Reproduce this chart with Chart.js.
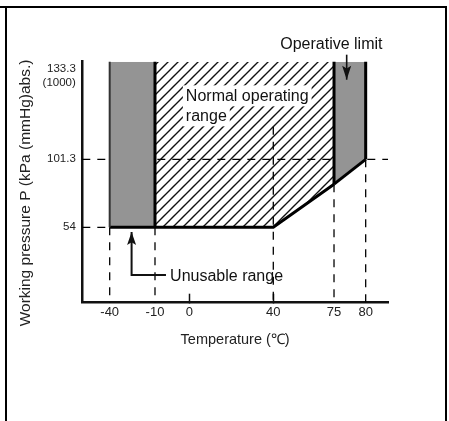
<!DOCTYPE html>
<html>
<head>
<meta charset="utf-8">
<script src="https://cdn.jsdelivr.net/npm/chart.js@4.4.1/dist/chart.umd.min.js"></script>
<style>
  html, body { margin: 0; padding: 0; background: #fff; }
  #wrap { position: relative; width: 449px; height: 421px; overflow: hidden; }
  #wrap canvas { position: absolute; left: 0; top: 0; }
  #frame { position: absolute; left: 5px; top: 6px; width: 438px; height: 440px; border: 2px solid #000; border-bottom: none; }
  #frameTop { position: absolute; left: 0; top: 6px; width: 6px; height: 2px; background: #000; }
</style>
</head>
<body>
<div id="wrap">
  <canvas id="myChart" width="449" height="421"></canvas>
  <div id="frame"></div>
  <div id="frameTop"></div>
</div>
<script>
// axis ticks
const temperatures = [-40, -10, 0, 40, 75, 80];
const temperatureLabels = ['-40', '-10', '0', '40', '75', '80'];
const pressures = [54, 101.3, 133.3];
const pressureLabels = [['54'], ['101.3'], ['', '', '133.3', '(1000)']];

// axis ends
const tempMin = -50, tempMax = 90;
const pressMin = 0, pressTop = 133.3;

// regions (lower boundary, filled up to the top)
const unusableT = [-40, -10];
const unusableP = [54, 54];
const normalT = [-10, 40, 75];
const normalP = [54, 54, 84];
const limitT = [75, 80];
const limitP = [84, 101.3];

// vertical region edges, from boundary up to the top
const edgeT = [-40, -10, 75, 80];
const edgeP = [54, 54, 84, 101.3];

// dashed guides
const guideLevels = [101.3, 54];
const guideLevelEnds = [tempMax, -40];
const guideTemps = [-40, -10, 40, 75, 80];
const guideTempTops = [54, 54, 112, 84, 101.3];

// annotations (data units)
const normalText = ['Normal operating', 'range'];
const normalTextT = -1, normalTextP = 120.3;
const unusableText = 'Unusable range';
const unusableTextT = -5.6, unusableTextP = 15.3;
const unusableArrowT = [-6.8, -25.5, -25.5];
const unusableArrowP = [19.9, 19.9, 50.7];
const limitText = 'Operative limit';
const limitTextT = 44, limitTextP = 137.3;
const limitArrowT = [77, 77];
const limitArrowP = [135.6, 127.4];

// schematic (non-linear) axes: value -> fraction of axis length
const scaleLayouts = {
  x: [[tempMin, 0], [-40, 0.0896], [-10, 0.2378], [0, 0.350], [40, 0.6248], [75, 0.8234], [80, 0.927], [tempMax, 1]],
  y: [[pressMin, 0], [54, 0.3129], [101.3, 0.595], [pressTop, 1]]
};
const scaleTicks = { x: temperatures, y: pressures };

class BrokenScale extends Chart.LinearScale {
  determineDataLimits() {
    const s = scaleLayouts[this.id];
    this.min = s[0][0];
    this.max = s[s.length - 1][0];
  }
  buildTicks() {
    return scaleTicks[this.id].map(v => ({ value: v }));
  }
  valueToDecimal(value) {
    const s = scaleLayouts[this.id];
    let i = 1;
    while (i < s.length - 1 && value > s[i][0]) i++;
    const a = s[i - 1], b = s[i];
    return a[1] + (value - a[0]) / (b[0] - a[0]) * (b[1] - a[1]);
  }
  getPixelForValue(value) {
    return this.getPixelForDecimal(this.valueToDecimal(value));
  }
  getValueForPixel(pixel) {
    const d = this.getDecimalForPixel(pixel);
    const s = scaleLayouts[this.id];
    let i = 1;
    while (i < s.length - 1 && d > s[i][1]) i++;
    const a = s[i - 1], b = s[i];
    return a[0] + (d - a[1]) / (b[1] - a[1]) * (b[0] - a[0]);
  }
}
BrokenScale.id = 'broken';
BrokenScale.defaults = Chart.LinearScale.defaults;
Chart.register(BrokenScale);

const FONT = '"Liberation Sans", Arial, sans-serif';
Chart.defaults.font.family = FONT;
Chart.defaults.color = '#222';

function makeHatch() {
  const c = document.createElement('canvas');
  c.width = 10; c.height = 10;
  const g = c.getContext('2d');
  g.strokeStyle = '#111';
  g.lineWidth = 1.4;
  g.beginPath();
  g.moveTo(-1, 11); g.lineTo(11, -1);
  g.moveTo(-1, 1); g.lineTo(1, -1);
  g.moveTo(9, 11); g.lineTo(11, 9);
  g.stroke();
  return g.createPattern(c, 'repeat');
}

const pts = (ts, ps) => ts.map((t, i) => ({ x: t, y: ps[i] }));
const GRAY = '#949494';

const datasets = [];
datasets.push({ data: pts(normalT, normalP), fill: 'end', backgroundColor: makeHatch(), borderColor: '#000', borderWidth: 3, order: 6 });
guideLevels.forEach((p, i) => {
  datasets.push({ data: pts([tempMin, guideLevelEnds[i]], [p, p]), borderColor: '#000', borderWidth: 1.3, borderDash: [8, 7], fill: false, order: 5 });
});
guideTemps.forEach((t, i) => {
  datasets.push({ data: pts([t, t], [guideTempTops[i], pressMin]), borderColor: '#000', borderWidth: 1.3, borderDash: [8, 7], fill: false, order: 5 });
});
datasets.push({ data: pts(unusableT, unusableP), fill: 'end', backgroundColor: GRAY, borderColor: '#000', borderWidth: 3, order: 4 });
datasets.push({ data: pts(limitT, limitP), fill: 'end', backgroundColor: GRAY, borderColor: '#000', borderWidth: 3, order: 4 });
edgeT.forEach((t, i) => {
  datasets.push({ data: pts([t, t], [edgeP[i], pressTop]), borderColor: i === 0 ? '#333' : '#000', borderWidth: i === 0 ? 2 : 3, fill: false, order: 2 });
});

function arrow(ctx, xs, ys, headLen, headW) {
  ctx.beginPath();
  ctx.moveTo(xs[0], ys[0]);
  for (let i = 1; i < xs.length; i++) ctx.lineTo(xs[i], ys[i]);
  ctx.stroke();
  const n = xs.length - 1;
  const ang = Math.atan2(ys[n] - ys[n - 1], xs[n] - xs[n - 1]);
  ctx.save();
  ctx.translate(xs[n], ys[n]);
  ctx.rotate(ang);
  ctx.beginPath();
  ctx.moveTo(0, 0);
  ctx.lineTo(-headLen, -headW / 2);
  ctx.lineTo(-headLen * 0.8, 0);
  ctx.lineTo(-headLen, headW / 2);
  ctx.closePath();
  ctx.fill();
  ctx.restore();
}

const notesPlugin = {
  id: 'notes',
  afterDraw(chart) {
    const { ctx, scales: { x, y } } = chart;
    ctx.save();
    ctx.font = '16px ' + FONT;
    ctx.textBaseline = 'alphabetic';
    ctx.textAlign = 'left';

    const nx = x.getPixelForValue(normalTextT);
    const ny = y.getPixelForValue(normalTextP);
    ctx.fillStyle = '#fff';
    normalText.forEach((line, i) => {
      const w = ctx.measureText(line).width;
      ctx.fillRect(nx - 3, ny + i * 20 - 16, w + 6, 21);
    });
    ctx.fillStyle = '#111';
    normalText.forEach((line, i) => ctx.fillText(line, nx, ny + i * 20));

    ctx.fillText(unusableText, x.getPixelForValue(unusableTextT), y.getPixelForValue(unusableTextP));
    ctx.fillText(limitText, x.getPixelForValue(limitTextT), y.getPixelForValue(limitTextP));

    ctx.strokeStyle = '#111';
    ctx.lineWidth = 2;
    arrow(ctx, unusableArrowT.map(v => x.getPixelForValue(v)), unusableArrowP.map(v => y.getPixelForValue(v)), 13, 9);
    ctx.lineWidth = 1.6;
    arrow(ctx, limitArrowT.map(v => x.getPixelForValue(v)), limitArrowP.map(v => y.getPixelForValue(v)), 14, 9);
    ctx.restore();
  }
};

new Chart(document.getElementById('myChart').getContext('2d'), {
  type: 'line',
  data: { datasets: datasets },
  plugins: [notesPlugin],
  options: {
    responsive: false,
    animation: false,
    devicePixelRatio: 1,
    layout: { padding: { left: 16.7, top: 61.7, right: 61, bottom: 72.3 } },
    elements: { point: { radius: 0, hoverRadius: 0 }, line: { tension: 0 } },
    plugins: { legend: { display: false }, tooltip: { enabled: false } },
    scales: {
      x: {
        type: 'broken',
        position: 'bottom',
        afterFit: s => { s.height = 46; s.paddingLeft = 0; s.paddingRight = 0; },
        border: { display: true, color: '#111', width: 2.5 },
        grid: {
          display: true,
          drawOnChartArea: false,
          drawTicks: true,
          tickLength: -9,
          tickWidth: 1.5,
          tickColor: c => (c.tick && (c.tick.value === 0 || c.tick.value === 40)) ? '#111' : 'rgba(0,0,0,0)'
        },
        ticks: {
          autoSkip: false,
          maxRotation: 0,
          padding: 10.5,
          font: { size: 13 },
          callback: (v, i) => temperatureLabels[i]
        },
        title: { display: true, text: 'Temperature (℃)', padding: 0, font: { size: 14.5 }, color: '#222' }
      },
      y: {
        type: 'broken',
        position: 'left',
        afterFit: s => { s.width = 65.6; s.paddingTop = 0; s.paddingBottom = 0; },
        border: { display: true, color: '#111', width: 2.5 },
        grid: { display: false, drawTicks: false },
        ticks: {
          autoSkip: false,
          padding: 6.5,
          font: { size: 11.5, lineHeight: 1.22 },
          callback: (v, i) => pressureLabels[i]
        },
        title: { display: true, text: 'Working pressure P (kPa (mmHg)abs.)     ', padding: 0, font: { size: 15.5 }, color: '#222' }
      }
    }
  }
});
</script>
</body>
</html>
